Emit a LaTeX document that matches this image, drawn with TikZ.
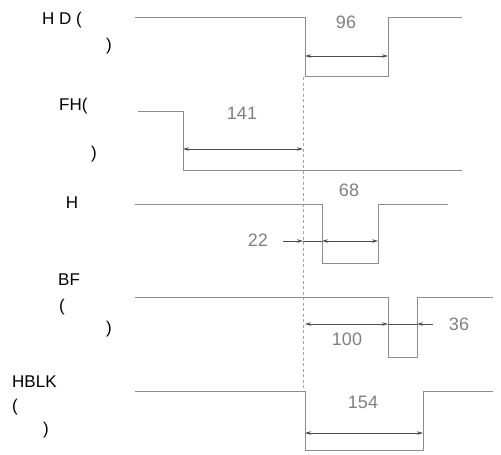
\documentclass[tikz,border=0pt]{standalone}
\usepackage{fontspec}
\setmainfont{Liberation Sans}
\usetikzlibrary{arrows.meta}
\begin{document}
\begin{tikzpicture}[x=1pt,y=-1pt,
  wave/.style={draw=black!45, line width=0.9pt},
  guide/.style={draw=black!35, line width=1pt, dash pattern=on 3pt off 2.5pt},
  tip/.style={Stealth[length=6pt,width=3.5pt]},
  dim/.style={draw=black!70, line width=0.7pt, {Stealth[length=6pt,width=3.5pt]}-{Stealth[length=6pt,width=3.5pt]}},
  dimr/.style={draw=black!70, line width=0.7pt, -{Stealth[length=6pt,width=3.5pt]}},
  lbl/.style={inner sep=0pt, font=\fontsize{17}{19}\selectfont, text=black},
  num/.style={inner sep=0pt, font=\fontsize{18}{20}\selectfont, text=black!50}]
\useasboundingbox (0,0) rectangle (501,455);
% guide line
\draw[guide] (303,77) -- (303,391);
% HD
\draw[wave] (135,17) -- (305,17) -- (305,76) -- (388,76) -- (388,17) -- (462,17);
\coordinate (a1) at (305,56); \coordinate (a2) at (388,56);
\draw[dim] (a1) -- (a2);
\node[num] (n96) at (346,22) {96};
% FH
\draw[wave] (138,111) -- (183,111) -- (183,170) -- (462,170);
\coordinate (b1) at (183,149); \coordinate (b2) at (303,149);
\draw[dim] (b1) -- (b2);
\node[num] (n141) at (242,113) {141};
% H
\draw[wave] (135,204) -- (322,204) -- (322,263) -- (378,263) -- (378,204) -- (448,204);
\coordinate (c0) at (283,241); \coordinate (c1) at (303,241);
\coordinate (c2) at (322,241); \coordinate (c3) at (378,241);
\draw[dimr] (c0) -- (c1);
\draw[draw=black!70, line width=0.7pt] (c1) -- (c2);
\draw[dim] (c2) -- (c3);
\node[num] (n22) at (258,240) {22};
\node[num] (n68) at (349,190) {68};
% BF
\draw[wave] (135,297) -- (388,297) -- (388,357) -- (417,357) -- (417,297) -- (493,297);
\coordinate (d1) at (305,324); \coordinate (d2) at (388,324);
\coordinate (d3) at (417,324); \coordinate (d4) at (433,324);
\draw[dim] (d1) -- (d2);
\draw[draw=black!70, line width=0.7pt] (d2) -- (d3);
\draw[dimr] (d4) -- (d3);
\node[num] (n100) at (347,339) {100};
\node[num] (n36) at (459,324) {36};
% HBLK
\draw[wave] (135,391) -- (305,391) -- (305,450) -- (423,450) -- (423,391) -- (493,391);
\coordinate (e1) at (305,433); \coordinate (e2) at (423,433);
\draw[dim] (e1) -- (e2);
\node[num] (n154) at (363,402) {154};
% left labels
\node[lbl, anchor=west] (l1) at (42,20) {H D (};
\node[lbl] (l1b) at (109,46) {)};
\node[lbl, anchor=west] (l2) at (59,106) {FH(};
\node[lbl] (l2b) at (94,154) {)};
\node[lbl] (l3) at (72,203) {H};
\node[lbl, anchor=west] (l4) at (58,280) {BF};
\node[lbl] (l4b) at (62,307) {(};
\node[lbl] (l4c) at (109,329) {)};
\node[lbl, anchor=west] (l5) at (12,382) {HBLK};
\node[lbl] (l5b) at (15,407) {(};
\node[lbl] (l5c) at (46,430) {)};
\end{tikzpicture}
\end{document}
